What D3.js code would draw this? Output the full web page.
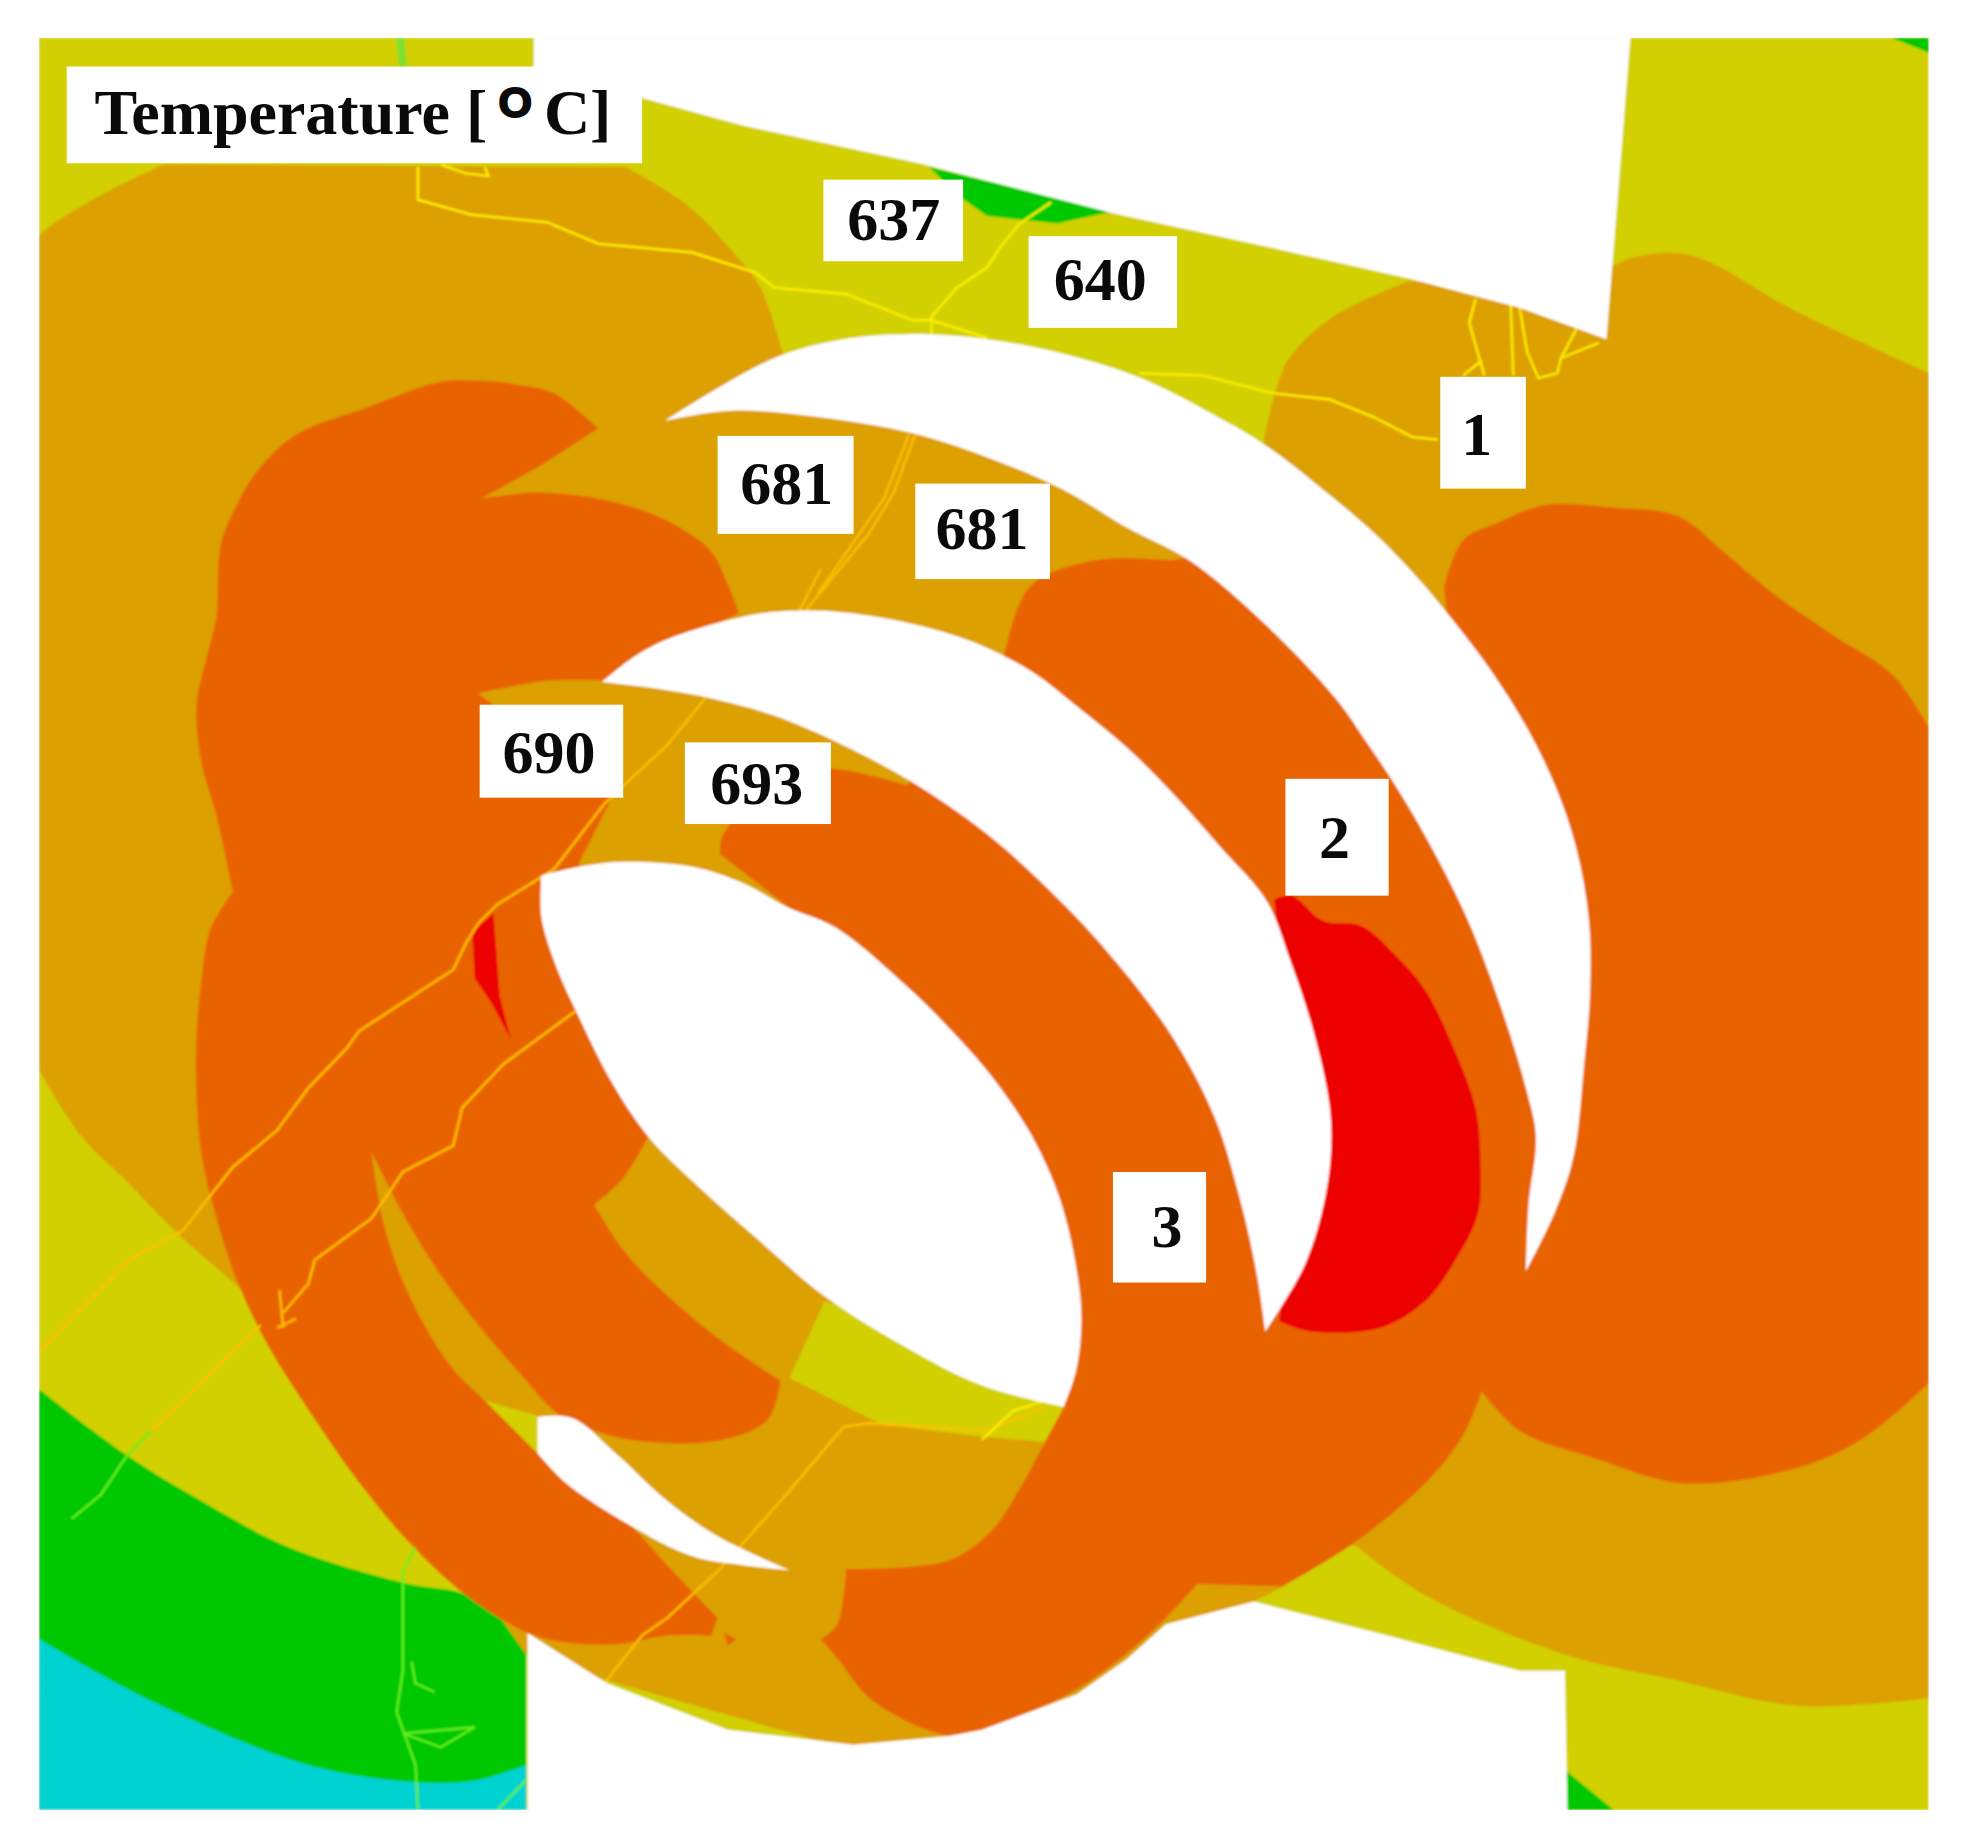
<!DOCTYPE html>
<html>
<head>
<meta charset="utf-8">
<style>
  html, body { margin: 0; padding: 0; background: #fff; }
  text { font-family: "Liberation Serif", serif; font-weight: bold; fill: #0a0a0a; }
</style>
<script src="https://cdn.jsdelivr.net/npm/d3@7"></script>
</head>
<body>
<div id="chart"></div>
<script>
// contour outlines. a third value 1 marks a sharp corner
const amberZone = [[31,187,1],[50,173],[90,150],[130,131,1],[497,133,1],[547,164],[580,198],[604,229],[622,282,1],[720,290,1],[850,320,1],[1004,370,1],[1004,350,1],[1012,315],[1024,285],[1059,252],[1118,224,1],[1200,225,1],[1272,217,1],[1297,205],[1342,203],[1427,248],[1532,297,1],[1532,1352,1],[1428,1358],[1333,1338],[1242,1317],[1132,1270],[1076,1230,1],[1040,1240,1],[1019,1263,1],[996,1275,1],[960,1320,1],[700,1400,1],[420,1320,1],[300,1150,1],[189,1024,1],[139,980],[100,940],[65,905],[31,852,1]];
const yellowPatch = [[655,1036],[627,1097],[700,1134],[784,1144],[830,1148],[860,1148],[860,1100],[700,1050]];
const yellowSliver = [[385,1115],[427,1127],[440,1165],[427,1160]];
const greenLow = [[31,1106,1],[100,1158],[160,1195],[230,1232],[320,1260],[372,1270],[418,1300,1],[418,1441,1],[31,1441,1]];
const cyanLow = [[31,1305,1],[120,1354],[245,1405],[335,1419],[380,1417],[418,1405,1],[418,1441,1],[31,1441,1]];
const greenTop = [[738,133],[885,168],[840,178],[784,172],[760,155]];
const greenCorner = [[1502,30],[1532,42],[1532,30]];
const greenFoot = [[1242,1408],[1282,1441],[1242,1441]];
const orangeLeft = [[350,304],[380,303],[410,306],[440,313],[475,341,1],[440,364],[420,376],[382,397,1],[425,392],[470,396],[510,406],[540,420],[565,439],[578,465],[587,488,1],[480,542,1],[435,542],[380,552,1],[487,633,1],[460,687,1],[470,760,1],[515,905,1],[495,938],[472,959,1],[495,995],[520,1022],[570,1065],[620,1099,1],[610,1130],[575,1146],[515,1148],[475,1140],[445,1127],[410,1090],[380,1055],[350,1015],[325,975],[295,917,1],[305,975],[320,1020],[340,1060],[360,1090],[385,1115],[427,1157,1],[450,1181,1],[500,1214],[530,1246],[570,1288,1],[565,1302,1],[530,1302],[490,1309],[445,1307],[415,1298],[370,1270],[325,1228],[285,1180],[250,1130],[215,1075],[190,1024],[172,970],[160,919],[156,870],[156,826],[160,780],[167,740],[185,710,1],[172,650],[160,607],[156,561],[165,520],[172,490],[175,435],[188,402],[205,374],[235,346],[290,325]];
const orangeRight = [[1147,467,1],[1162,430],[1190,416],[1227,402],[1280,404],[1333,411],[1370,440],[1408,472],[1455,505],[1503,537],[1532,579,1],[1532,1101,1],[1483,1143],[1433,1167],[1338,1181],[1270,1162],[1207,1139],[1177,1108,1],[1140,900,1],[1170,700,1]];
const orangeCentre = [[797,525,1],[818,467],[870,446],[930,446,1],[970,440,1],[1100,560,1],[1200,760,1],[1235,880,1],[1225,1000,1],[1177,1108,1],[1162,1143],[1132,1181],[1076,1228],[1019,1263,1],[951,1261,1],[916,1298],[855,1345],[780,1377],[754,1382],[693,1354],[665,1320],[652,1305,1],[665,1293],[672,1249,1],[754,1242],[788,1218],[810,1185],[830,1148],[845,1120,1],[855,1031,1],[700,780,1],[572,680,1],[574,665],[620,620],[660,612],[720,625,1]];
const orangeSpeck = [[575,1300],[585,1305],[578,1310]];
const redHot = [[1012,716,1],[1026,713],[1051,733],[1081,737],[1110,762],[1132,788],[1155,835],[1172,882],[1176,925],[1174,966],[1155,1005],[1132,1036],[1097,1057],[1041,1060],[1016,1052,1],[1030,900,1]];
const redSpot = [[375,742],[392,727],[397,793],[406,828],[390,798],[377,779]];
// uncovered parts of the section
const blockTop = [[424,30],[1295,30],[1276,270],[1207,245],[1120,222],[1000,195],[885,170],[730,130],[590,100],[510,78],[424,78]];
const blockBottom = [[419,1300],[482,1340],[578,1377],[678,1389],[754,1382],[780,1377],[855,1349],[895,1321],[926,1293],[996,1275],[1102,1302],[1207,1330],[1243,1330],[1245,1441],[419,1441]];
const crescentOne = [[528,335,1],[570,309],[620,283],[670,270],[720,266],[784,270],[850,283],[906,301],[960,328],[1006,355],[1050,389],[1091,424],[1125,459],[1155,495],[1185,535],[1212,578],[1235,625],[1252,675],[1262,732],[1263,790],[1258,850],[1250,920],[1235,965],[1212,1012,1],[1214,960],[1220,905],[1213,870],[1195,810],[1167,735],[1140,680],[1112,631],[1085,590],[1061,556],[1005,497],[946,447],[895,420],[845,390],[784,364],[725,345],[650,332],[580,327]];
const crescentTwo = [[478,543,1],[505,522],[535,507],[600,489],[640,486],[675,488],[730,498],[780,514],[820,535],[855,562],[895,595],[931,631],[970,675],[1006,717],[1025,765],[1043,820],[1056,880],[1057,920],[1050,965],[1035,1010],[1005,1060,1],[998,1013],[985,955],[965,890],[931,825],[890,770],[845,720],[784,664],[720,620],[650,584],[610,568],[565,556],[520,548]];
const holeThree = [[430,697,1],[460,690],[495,686],[550,690],[590,703],[625,722],[663,738],[720,785],[760,825],[790,860],[820,905],[842,955],[855,1010],[859,1050],[855,1090],[845,1120,1],[780,1103],[715,1070],[655,1032],[600,985],[555,945],[515,905],[485,860],[460,810],[442,770],[430,730]];
const sliverHole = [[427,1128,1],[455,1129],[490,1158],[530,1195],[570,1223],[627,1250,1],[590,1246],[550,1239],[500,1214],[450,1181],[427,1157,1]];

// cracks
const cracksYellow = [
  [[332,133],[332,159],[375,171],[435,177],[475,194],[550,201],[600,217],[615,229],[672,234],[725,255],[740,255],[784,269]],
  [[905,297],[956,299],[1011,313],[1056,318],[1091,332],[1122,348],[1142,350]],
  [[350,131],[370,138],[388,140],[385,133]],
  [[740,266],[740,252],[760,229],[784,213],[795,196],[810,178],[835,161]],
  [[1172,238],[1167,257],[1179,299]],
  [[1200,243],[1202,299]],
  [[1207,245],[1213,280],[1222,301],[1237,297],[1240,285],[1252,262]],
  [[1240,285],[1270,273]],
  [[1162,299],[1177,287]],
  [[830,1115],[805,1123],[780,1146]]
];
const cracksOrange = [
  [[727,346],[710,392],[690,425],[640,486]],
  [[722,346],[702,397],[650,472]],
  [[652,453],[635,486]],
  [[560,556],[530,593],[480,640],[440,692],[395,720],[380,735],[370,751],[360,772],[320,798],[285,821],[275,835],[245,866],[220,900],[185,929],[145,980],[105,1001],[31,1076]],
  [[457,805],[400,847],[367,882],[360,912],[320,933],[295,970],[250,1003],[245,1022],[225,1045]],
  [[222,1027],[225,1057]],
  [[220,1057],[235,1050]],
  [[207,1055],[120,1139]],
  [[830,1120],[784,1139],[690,1133],[670,1136],[620,1195],[570,1251],[530,1288],[510,1302],[480,1340]]
];
const cracksGreen = [
  [[120,1139],[100,1160],[80,1190],[57,1209]],
  [[330,1232],[320,1251],[320,1330],[315,1363],[330,1405],[332,1441]],
  [[320,1380],[377,1375],[350,1391],[320,1380]],
  [[327,1323],[330,1340],[345,1347]],
  [[395,1441],[418,1417]]
];
const greenStripe = [[318,30],[320,53]];

// labels
const titleText = ["Temperature [", "O", "C]"];
const tempLabels = ["637", "640", "681", "681", "690", "693", "1", "2", "3"];
const labelCentres = [[710,191],[874,239],[625,401],[780,437],[436,615],[601,640],[1173,362],[1060,683],[927,993]];
const labelBoxes = [[654,143,765,208],[817,188,935,261],[570,347,678,425],[727,385,834,461],[381,561,495,635],[544,591,660,656],[1144,300,1212,389],[1021,620,1103,713],[884,933,958,1021]];

const width = 1964, height = 1839;

// the outlines are in picture units
const x = d3.scaleLinear().domain([0, 1560]).range([0, width]);
const y = d3.scaleLinear().domain([0, 1464]).range([0, height]);

const svg = d3.select("#chart").append("svg")
    .attr("width", width)
    .attr("height", height)
    .style("display", "block");

const defs = svg.append("defs");
defs.append("clipPath").attr("id", "frame")
    .append("rect")
    .attr("x", x(31)).attr("y", y(30))
    .attr("width", x(1532) - x(31)).attr("height", y(1441) - y(30));
// the source is a soft scan, edges are not crisp
defs.append("filter").attr("id", "soft")
    .attr("filterUnits", "userSpaceOnUse")
    .attr("x", 0).attr("y", 0).attr("width", width).attr("height", height)
    .append("feGaussianBlur").attr("stdDeviation", 0.8);

const plot = svg.append("g").attr("clip-path", "url(#frame)").attr("filter", "url(#soft)");

const sharp = d3.line().x(d => x(d[0])).y(d => y(d[1])).curve(d3.curveLinearClosed);
const open = d3.line().x(d => x(d[0])).y(d => y(d[1]));
const run = d3.line().x(d => x(d[0])).y(d => y(d[1])).curve(d3.curveCatmullRom.alpha(0.5));

// smooth outline that stays sharp at the marked corners
function outline(points) {
    const first = points.findIndex(p => p[2]);
    const ring = points.slice(first).concat(points.slice(0, first), [points[first]]);
    const parts = [];
    let current = [ring[0]];
    ring.slice(1).forEach(p => {
        current.push(p);
        if (p[2]) { parts.push(current); current = [p]; }
    });
    return parts.map((part, i) => {
        const d = run(part);
        return i === 0 ? d : "L" + d.slice(1);
    }).join("") + "Z";
}

function drawShape(points, color) {
    plot.append("path").attr("d", outline(points)).attr("fill", color);
}
function drawPlain(points, color) {
    plot.append("path").attr("d", sharp(points)).attr("fill", color);
}

plot.append("rect")
    .attr("x", x(31)).attr("y", y(30))
    .attr("width", x(1532) - x(31)).attr("height", y(1441) - y(30))
    .attr("fill", "#d2d000");

plot.append("path").attr("d", open(greenStripe))
    .attr("fill", "none").attr("stroke", "#80e030").attr("stroke-width", 8);

drawShape(greenLow, "#00c800");
drawShape(cyanLow, "#00d2d2");
drawPlain(greenTop, "#00c800");
drawPlain(greenCorner, "#00c800");
drawPlain(greenFoot, "#00c800");
drawShape(amberZone, "#dca000");
drawPlain(yellowPatch, "#d2d000");
drawPlain(yellowSliver, "#d2d000");
drawShape(orangeRight, "#e86400");
drawShape(orangeLeft, "#e86400");
drawShape(orangeCentre, "#e86400");
drawPlain(orangeSpeck, "#e86400");
drawShape(redHot, "#ec0000");
drawPlain(redSpot, "#ec0000");

function drawCracks(list, color) {
    plot.selectAll(null).data(list).enter().append("path")
        .attr("d", open)
        .attr("fill", "none")
        .attr("stroke", color)
        .attr("stroke-width", 2.4);
}
drawCracks(cracksOrange, "#ffc000");
drawCracks(cracksYellow, "#fff000");
drawCracks(cracksGreen, "#60f020");

drawPlain(blockTop, "#fff");
drawPlain(blockBottom, "#fff");
drawShape(crescentOne, "#fff");
drawShape(crescentTwo, "#fff");
drawShape(holeThree, "#fff");
drawShape(sliverHole, "#fff");

// label boxes go over everything
svg.selectAll(".box").data(labelBoxes).enter().append("rect")
    .attr("class", "box")
    .attr("x", d => x(d[0])).attr("y", d => y(d[1]))
    .attr("width", d => x(d[2]) - x(d[0])).attr("height", d => y(d[3]) - y(d[1]))
    .attr("fill", "#fff");

svg.selectAll(".temp").data(tempLabels).enter().append("text")
    .attr("class", "temp")
    .attr("x", (d, i) => x(labelCentres[i][0]))
    .attr("y", (d, i) => y(labelCentres[i][1]))
    .attr("text-anchor", "middle")
    .style("font-size", "62px")
    .text(d => d);

// title box
svg.append("rect")
    .attr("x", x(53)).attr("y", y(53))
    .attr("width", x(510) - x(53)).attr("height", y(130) - y(53))
    .attr("fill", "#fff");
svg.append("text").attr("x", x(75)).attr("y", y(107)).style("font-size", "64px").text(titleText[0]);
svg.append("text").attr("x", x(396)).attr("y", y(93)).style("font-size", "43px")
    .style("font-family", "'Liberation Sans', sans-serif")
    .style("stroke", "#0a0a0a").style("stroke-width", 2)
    .text(titleText[1]);
svg.append("text").attr("x", x(432)).attr("y", y(107)).style("font-size", "64px").text(titleText[2]);
</script>
</body>
</html>
